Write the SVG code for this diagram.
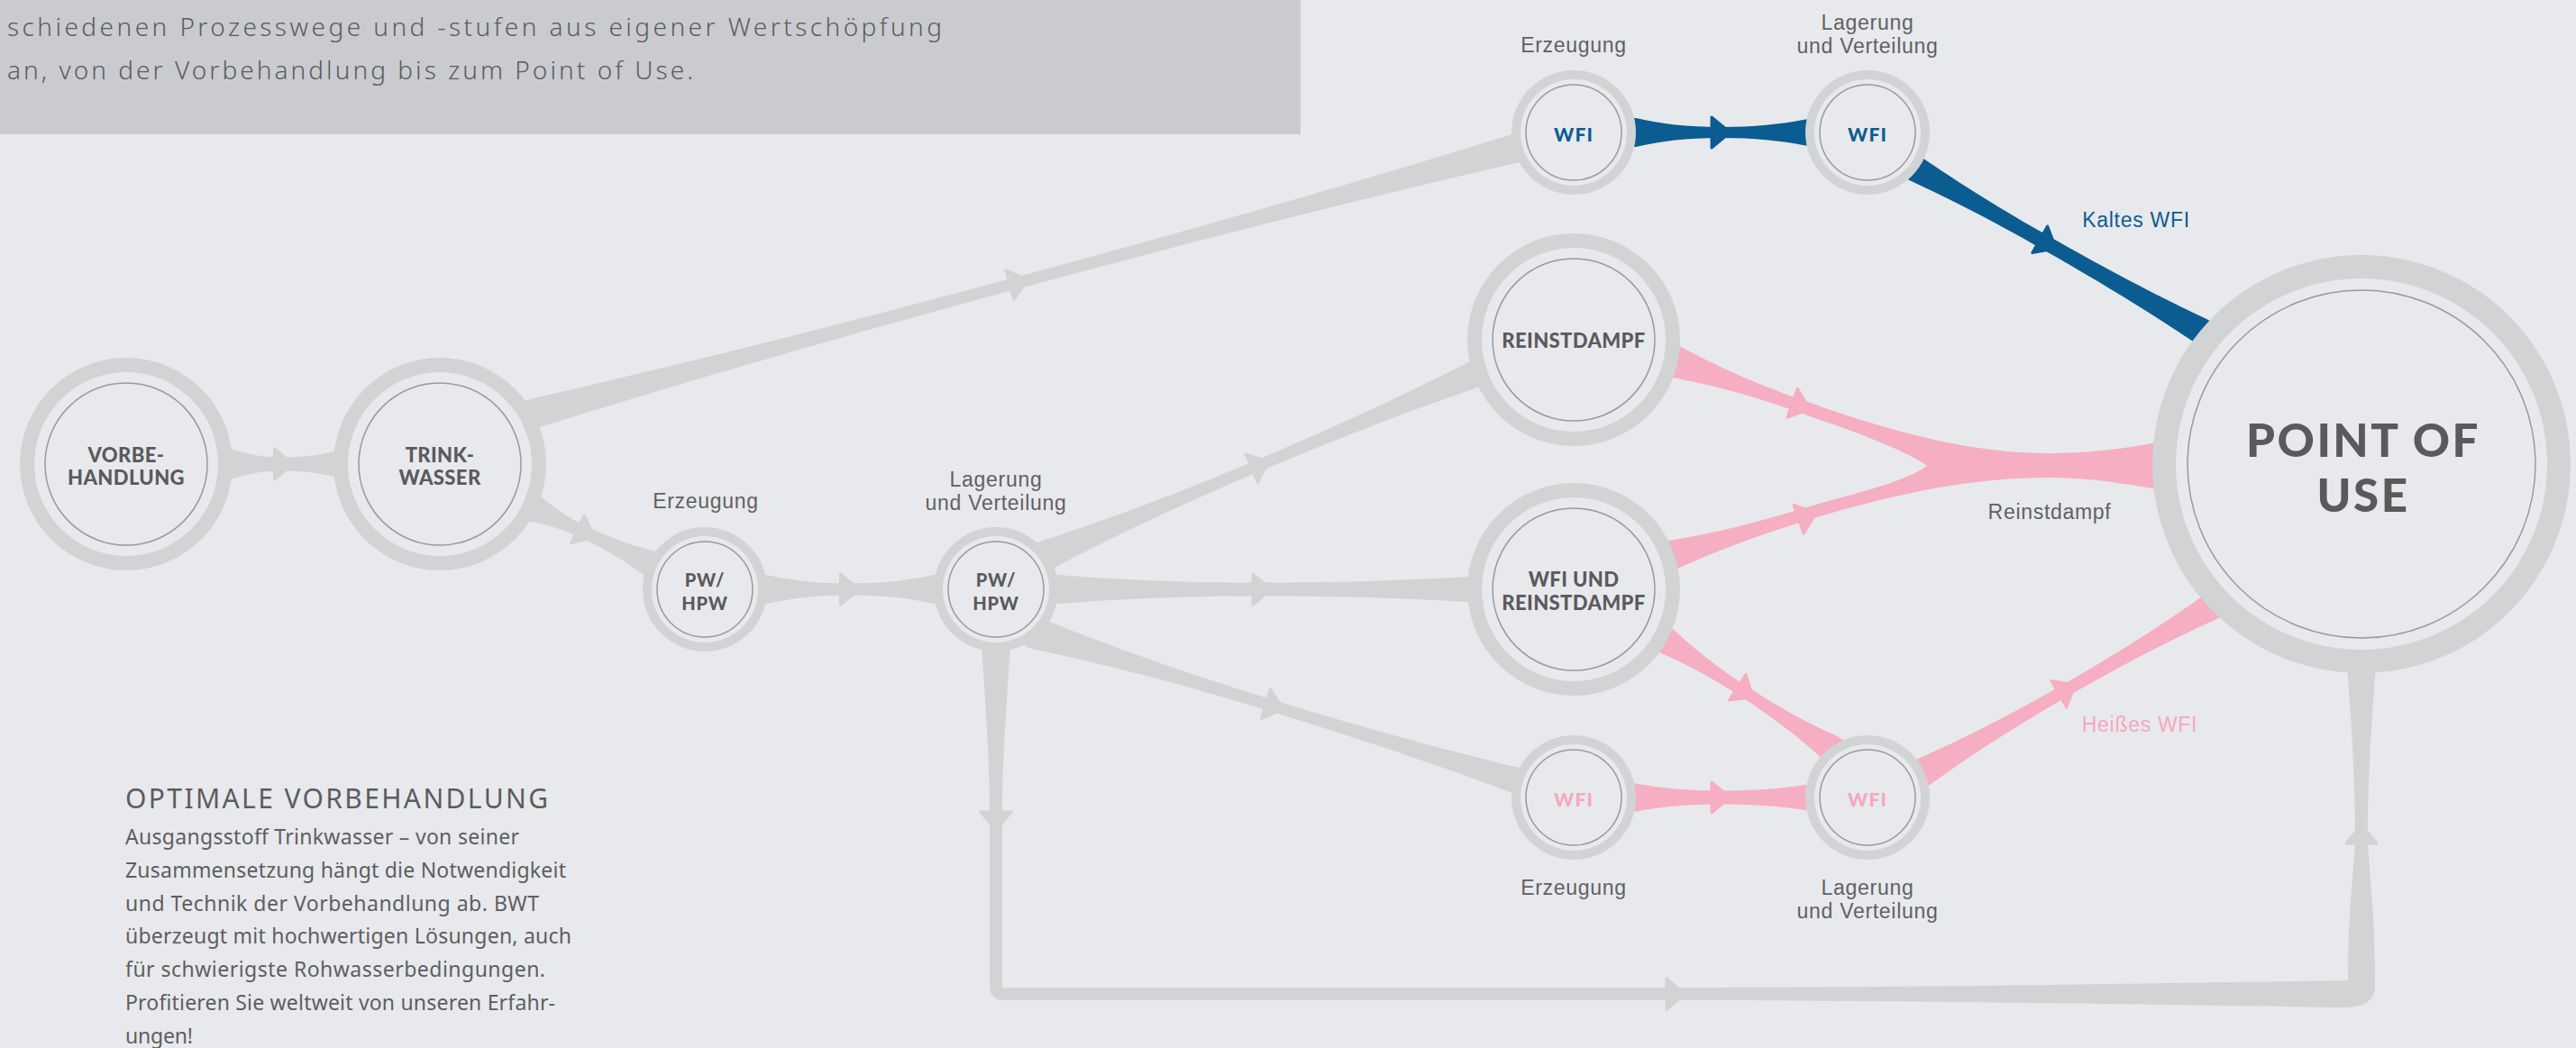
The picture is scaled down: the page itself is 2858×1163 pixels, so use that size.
<svg xmlns="http://www.w3.org/2000/svg" width="2858" height="1163" viewBox="0 0 2858 1163">
<defs>
<style>
.bg{fill:#e8e9ec}
.ring{fill:#d2d3d5}
.inner{fill:#e8e9ec}
.thin{fill:none;stroke:#9a9a9d;stroke-width:1.5}
.cg{fill:#d2d3d5}
.cb{fill:#0b5c91}
.cp{fill:#f6aec2}
.ag{fill:#d2d3d5;stroke:#d2d3d5;stroke-width:3;stroke-linejoin:round}
.ab{fill:#0b5c91;stroke:#0b5c91;stroke-width:3;stroke-linejoin:round}
.ap{fill:#f6aec2;stroke:#f6aec2;stroke-width:3;stroke-linejoin:round}
.nl{font-family:Lato,"Liberation Sans",sans-serif;font-weight:900;font-size:22px;fill:#5a5a5d;text-anchor:middle;letter-spacing:0.4px}
.ns{font-size:20px;letter-spacing:0.8px}
.nw{font-size:21px;letter-spacing:1.2px}
.cap{font-family:"Liberation Sans",Arial,sans-serif;font-size:23px;fill:#616164;text-anchor:middle;letter-spacing:0.7px}
.pou{font-size:51px;letter-spacing:2.5px}
.intro{font-family:"Noto Sans","Liberation Sans",sans-serif;font-size:28px;fill:#5c5c5f;font-weight:300}
.h{font-family:"Noto Sans","Liberation Sans",sans-serif;font-size:30px;fill:#5c5c5f}
.body{font-family:"Noto Sans","Liberation Sans",sans-serif;font-size:23px;fill:#5e5e61}
.blue{fill:#0b5c91}
.pink{fill:#f5a8bd}
</style>
<path id="ah" d="M-10,-17 L10.5,0 L-10,17 Z"/>
</defs>

<rect class="bg" x="0" y="0" width="2858" height="1163"/>

<g id="intro-box">
<rect x="0" y="0" width="1443" height="149" fill="#c9cbcf"/>
<text class="intro" x="8" y="40" textLength="1037">schiedenen Prozesswege und -stufen aus eigener Wertschöpfung</text>
<text class="intro" x="8" y="88" textLength="761">an, von der Vorbehandlung bis zum Point of Use.</text>
</g>

<g id="text-vorbehandlung">
<text class="h" x="139" y="897" textLength="469">OPTIMALE VORBEHANDLUNG</text>
<text class="body" x="139" y="937" textLength="437">Ausgangsstoff Trinkwasser – von seiner</text>
<text class="body" x="139" y="974" textLength="489">Zusammensetzung hängt die Notwendigkeit</text>
<text class="body" x="139" y="1011" textLength="459">und Technik der Vorbehandlung ab. BWT</text>
<text class="body" x="139" y="1047" textLength="495">überzeugt mit hochwertigen Lösungen, auch</text>
<text class="body" x="139" y="1084" textLength="466">für schwierigste Rohwasserbedingungen.</text>
<text class="body" x="139" y="1121" textLength="477">Profitieren Sie weltweit von unseren Erfahr-</text>
<text class="body" x="139" y="1158" textLength="75">ungen!</text>
</g>

<g id="connectors">
<!-- Vorbehandlung -> Trinkwasser -->
<g transform="translate(140,515)">
<path class="cg" d="M108,-16.5 L118,-16.5 C135,-10.65 151.9,-7.5 174.5,-7.5 C196.7,-7.5 213.4,-9.8 230,-14 L240,-14 L240,14 L230,14 C213.4,9.8 196.7,7.5 174.5,7.5 C151.9,7.5 135,10.65 118,16.5 L108,16.5 Z"/>
<use href="#ah" class="ag" x="174.5"/>
</g>
<!-- Trinkwasser -> PW Erzeugung -->
<g transform="translate(488,515) rotate(25.3)">
<path class="cg" d="M108,-15 L118,-15 C136.4,-9.8 154.7,-7 179.2,-7 C210,-7 233.1,-9.6 256.2,-14.5 L266,-14.5 L266,14.5 L256.2,14.5 C233.1,9.6 210,7 179.2,7 C154.7,7 136.4,9.8 118,15 L108,15 Z"/>
<use href="#ah" class="ag" x="179.2"/>
</g>
<!-- PW Erzeugung -> PW Lagerung -->
<g transform="translate(782,654)">
<path class="cg" d="M59,-16 L69,-16 C96.5,-9.8 123.9,-6.5 160.5,-6.5 C197.9,-6.5 226,-9.8 254,-16 L264,-16 L264,16 L254,16 C226,9.8 197.9,6.5 160.5,6.5 C123.9,6.5 96.5,9.8 69,16 L59,16 Z"/>
<use href="#ah" class="ag" x="160.5"/>
</g>
<!-- Trinkwasser -> WFI Erzeugung (oben) -->
<g transform="translate(488,487) rotate(-15.12)">
<path class="cg" d="M97.6,-16.5 L107.6,-16.5 C274.8,-10 442,-6.5 665,-6.5 C892.6,-6.5 1063.4,-9.8 1234.1,-16 L1244,-16 L1244,16 L1234.1,16 C1063.4,9.8 892.6,6.5 665,6.5 C442,6.5 274.8,10 107.6,16.5 L97.6,16.5 Z"/>
<use href="#ah" class="ag" x="665"/>
</g>
<!-- WFI Erzeugung -> WFI Lagerung (blau) -->
<g transform="translate(1746,147)">
<path class="cb" d="M59,-16 L69,-16 C97.2,-9.5 125.4,-6 163,-6 C200.6,-6 228.8,-9 257,-14.5 L267,-14.5 L267,14.5 L257,14.5 C228.8,9 200.6,6 163,6 C125.4,6 97.2,9.5 69,16 L59,16 Z"/>
<use href="#ah" class="ab" x="163"/>
</g>
<!-- WFI Lagerung -> Point of Use (Kaltes WFI) -->
<g transform="translate(2125.5,187.5) rotate(29.6)">
<path class="cb" d="M-10,-14.5 L0,-14.5 C50.5,-10.3 101,-8 168.4,-8 C246.1,-8 304.4,-10.3 362.7,-14.5 L372.7,-14.5 L372.7,14.5 L362.7,14.5 C304.4,10.3 246.1,8 168.4,8 C101,8 50.5,10.3 0,14.5 L-10,14.5 Z"/>
<use href="#ah" class="ab" x="168.4"/>
</g>
<!-- PW Lagerung -> Reinstdampf -->
<g transform="translate(1161,616) rotate(-22.9)">
<path class="cg" d="M-10,-16.5 L0,-16.5 C77.2,-10 154.4,-6.5 257.3,-6.5 C360.2,-6.5 437.3,-9.5 514.5,-15 L524.5,-15 L524.5,15 L514.5,15 C437.3,9.5 360.2,6.5 257.3,6.5 C154.4,6.5 77.2,10 0,16.5 L-10,16.5 Z"/>
<use href="#ah" class="ag" x="257.3"/>
</g>
<!-- PW Lagerung -> WFI und Reinstdampf -->
<g transform="translate(1105,654)">
<path class="cg" d="M59,-16 L69,-16 C136.8,-10.5 204.6,-7.5 295,-7.5 C386.2,-7.5 454.6,-9.8 523,-14 L533,-14 L533,14 L523,14 C454.6,9.8 386.2,7.5 295,7.5 C204.6,7.5 136.8,10.5 69,16 L59,16 Z"/>
<use href="#ah" class="ag" x="295"/>
</g>
<!-- PW Lagerung -> WFI Erzeugung (unten) -->
<g transform="translate(1151.5,703.5) rotate(17.05)">
<path class="cg" d="M-10,-17.5 L0,-17.5 C82.4,-10.35 164.8,-6.5 274.6,-6.5 C386.5,-6.5 470.5,-9.3 554.4,-14.5 L564.4,-14.5 L564.4,14.5 L554.4,14.5 C470.5,9.3 386.5,6.5 274.6,6.5 C164.8,6.5 82.4,10.35 0,17.5 L-10,17.5 Z"/>
<use href="#ah" class="ag" x="274.6"/>
</g>
<!-- PW Lagerung -> Point of Use (unten herum) -->
<path class="cg" d="M1089,715 C1094,790 1098,850 1098,900 L1098,1094 Q1098,1110 1114,1110 L1900,1110 C2200,1111 2450,1116 2600,1118 Q2635,1118 2635,1095 C2635,1000 2627,960 2627,926 C2627,860 2632,790 2636,740 L2636,735 L2604,735 L2604,740 C2608,790 2613,860 2613,926 C2613,960 2605,1000 2605,1088 C2450,1090 2200,1095 1900,1096 L1112,1096 L1112,900 C1112,850 1116,790 1121,715 Z"/>
<use href="#ah" class="ag" transform="translate(1105,911) rotate(90)"/>
<use href="#ah" class="ag" transform="translate(1859,1103)"/>
<use href="#ah" class="ag" transform="translate(2620,926) rotate(-90)"/>
<!-- Reinstdampf + WFI und Reinstdampf -> Point of Use (Reinstdampf) -->
<path class="cp" d="M1857.9,382.7 L1867.3,386 C1905.9,406.9 1945.4,424.8 1999.8,444.1 C2090,476 2180,503 2273,503 C2320,503 2360,497 2388,492 L2400,490 L2400,544 L2388,542 C2360,537 2320,530 2273,530 C2180,530 2090,551.4 2005,577.4 C1947,595.1 1904.4,611.3 1862.7,630.3 L1853.1,633.2 L1843.7,602.6 L1853.3,599.7 C1898.6,592.1 1943,581.7 2001,564 C2050,549 2110,537 2138,517 C2110,497 2042.2,474 1995.2,457.3 C1940.8,438 1898.7,427.1 1855.7,419 L1846.3,415.7 Z"/>
<use href="#ah" class="ap" transform="translate(1998,450.7) rotate(19.5)"/>
<use href="#ah" class="ap" transform="translate(2005,573) rotate(-19)"/>
<!-- WFI und Reinstdampf -> WFI Lagerung (unten) -->
<g transform="translate(1849,711.5) rotate(33.1)">
<path class="cp" d="M-10,-15 L0,-15 C31.2,-9.5 62.4,-6.5 104,-6.5 C149.1,-6.5 183,-9.5 216.8,-15 L226.8,-15 L226.8,15 L216.8,15 C183,9.5 149.1,6.5 104,6.5 C62.4,6.5 31.2,9.5 0,15 L-10,15 Z"/>
<use href="#ah" class="ap" x="104"/>
</g>
<!-- WFI Erzeugung -> WFI Lagerung (pink) -->
<g transform="translate(1746,885)">
<path class="cp" d="M59,-15.5 L69,-15.5 C97.2,-10.3 125.4,-7.5 163,-7.5 C200.6,-7.5 228.8,-9.8 257,-14 L267,-14 L267,14 L257,14 C228.8,9.8 200.6,7.5 163,7.5 C125.4,7.5 97.2,10.3 69,15.5 L59,15.5 Z"/>
<use href="#ah" class="ap" x="163"/>
</g>
<!-- WFI Lagerung -> Point of Use (Heißes WFI) -->
<g transform="translate(2133.5,857) rotate(-29.9)">
<path class="cp" d="M-10,-16 L0,-16 C55.2,-10.2 110.4,-7 184,-7 C257.3,-7 312.3,-9.8 367.3,-15 L377.3,-15 L377.3,15 L367.3,15 C312.3,9.8 257.3,7 184,7 C110.4,7 55.2,10.2 0,16 L-10,16 Z"/>
<use href="#ah" class="ap" x="184"/>
</g>
<text class="cap blue" x="2370" y="252">Kaltes WFI</text>
<text class="cap" x="2274" y="576">Reinstdampf</text>
<text class="cap pink" x="2374" y="812">Heißes WFI</text>
</g>

<g id="node-vorbehandlung">
<circle class="ring" cx="140" cy="515" r="118"/>
<circle class="inner" cx="140" cy="515" r="102"/>
<circle class="thin" cx="140" cy="515" r="90"/>
<text class="nl" x="140" y="513">VORBE-<tspan x="140" dy="25">HANDLUNG</tspan></text>
</g>

<g id="node-trinkwasser">
<circle class="ring" cx="488" cy="515" r="118"/>
<circle class="inner" cx="488" cy="515" r="102"/>
<circle class="thin" cx="488" cy="515" r="90"/>
<text class="nl" x="488" y="513">TRINK-<tspan x="488" dy="25">WASSER</tspan></text>
</g>

<g id="node-pw-erzeugung">
<circle class="ring" cx="782" cy="654" r="69"/>
<circle class="inner" cx="782" cy="654" r="59"/>
<circle class="thin" cx="782" cy="654" r="53"/>
<text class="nl ns" x="782" y="651">PW/<tspan x="782" dy="26">HPW</tspan></text>
<text class="cap" x="783" y="564">Erzeugung</text>
</g>

<g id="node-pw-lagerung">
<circle class="ring" cx="1105" cy="654" r="69"/>
<circle class="inner" cx="1105" cy="654" r="59"/>
<circle class="thin" cx="1105" cy="654" r="53"/>
<text class="nl ns" x="1105" y="651">PW/<tspan x="1105" dy="26">HPW</tspan></text>
<text class="cap" x="1105" y="540">Lagerung</text>
<text class="cap" x="1105" y="566">und Verteilung</text>
</g>

<g id="node-wfi-erzeugung-kalt">
<circle class="ring" cx="1746" cy="147" r="69"/>
<circle class="inner" cx="1746" cy="147" r="59"/>
<circle class="thin" cx="1746" cy="147" r="53"/>
<text class="nl nw blue" x="1746" y="157">WFI</text>
<text class="cap" x="1746" y="58">Erzeugung</text>
</g>

<g id="node-wfi-lagerung-kalt">
<circle class="ring" cx="2072" cy="147" r="69"/>
<circle class="inner" cx="2072" cy="147" r="59"/>
<circle class="thin" cx="2072" cy="147" r="53"/>
<text class="nl nw blue" x="2072" y="157">WFI</text>
<text class="cap" x="2072" y="33">Lagerung</text>
<text class="cap" x="2072" y="59">und Verteilung</text>
</g>

<g id="node-reinstdampf">
<circle class="ring" cx="1746" cy="377" r="118"/>
<circle class="inner" cx="1746" cy="377" r="102"/>
<circle class="thin" cx="1746" cy="377" r="90"/>
<text class="nl" x="1746" y="386">REINSTDAMPF</text>
</g>

<g id="node-wfi-und-reinstdampf">
<circle class="ring" cx="1746" cy="654" r="118"/>
<circle class="inner" cx="1746" cy="654" r="102"/>
<circle class="thin" cx="1746" cy="654" r="90"/>
<text class="nl" x="1746" y="651">WFI UND<tspan x="1746" dy="26">REINSTDAMPF</tspan></text>
</g>

<g id="node-wfi-erzeugung-heiss">
<circle class="ring" cx="1746" cy="885" r="69"/>
<circle class="inner" cx="1746" cy="885" r="59"/>
<circle class="thin" cx="1746" cy="885" r="53"/>
<text class="nl nw pink" x="1746" y="895">WFI</text>
<text class="cap" x="1746" y="993">Erzeugung</text>
</g>

<g id="node-wfi-lagerung-heiss">
<circle class="ring" cx="2072" cy="885" r="69"/>
<circle class="inner" cx="2072" cy="885" r="59"/>
<circle class="thin" cx="2072" cy="885" r="53"/>
<text class="nl nw pink" x="2072" y="895">WFI</text>
<text class="cap" x="2072" y="993">Lagerung</text>
<text class="cap" x="2072" y="1019">und Verteilung</text>
</g>

<g id="node-point-of-use">
<circle class="ring" cx="2620" cy="515" r="232"/>
<circle class="inner" cx="2620" cy="515" r="206"/>
<circle class="thin" cx="2620" cy="515" r="193"/>
<text class="nl pou" x="2622" y="507">POINT OF<tspan x="2622" dy="61">USE</tspan></text>
</g>
</svg>
